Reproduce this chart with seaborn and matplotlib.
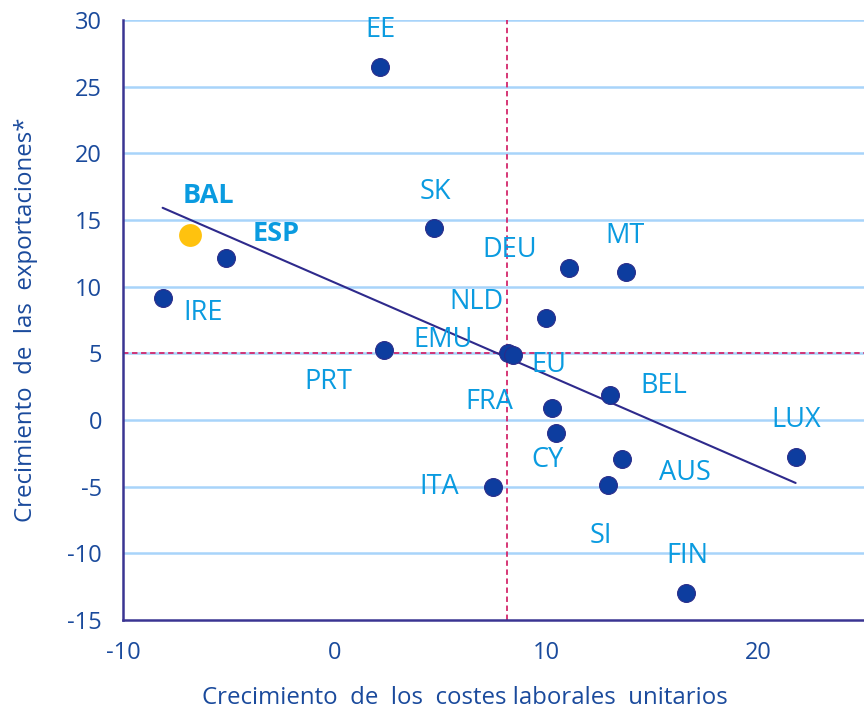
import matplotlib
matplotlib.use("Agg")
import matplotlib.pyplot as plt
import seaborn as sns
import pandas as pd
import numpy as np

# ---- data ----
countries = ["IRE", "BAL", "ESP", "EE", "PRT", "SK", "ITA", "EMU", "EU", "NLD",
             "FRA", "CY", "DEU", "SI", "BEL", "AUS", "MT", "FIN", "LUX"]
ulc_growth = [-8.13, -6.86, -5.12, 2.16, 2.35, 4.70, 7.48, 8.18, 8.40, 9.97,
              10.25, 10.44, 11.05, 12.93, 13.02, 13.59, 13.78, 16.60, 21.77]
export_growth = [9.15, 13.9, 12.15, 26.5, 5.25, 14.4, -5.0, 5.0, 4.9, 7.65,
                 0.9, -1.0, 11.4, -4.9, 1.9, -2.9, 11.1, -13.0, -2.8]
highlight = "BAL"
bold_labels = ["BAL", "ESP"]
ref_x = 8.15
ref_y = 5.0
x_ticks = [-10, 0, 10, 20]
y_ticks = [-15, -10, -5, 0, 5, 10, 15, 20, 25, 30]
x_label = "Crecimiento  de  los  costes laborales  unitarios"
y_label = "Crecimiento  de  las  exportaciones*"

# label offsets (pixels) relative to each point
label_offsets = {
    "IRE": (41, -15), "BAL": (19, 39), "ESP": (50, 24), "EE": (0, 37),
    "PRT": (-56, -32), "SK": (1, 36), "ITA": (-54, 0), "EMU": (-65, 13),
    "EU": (36, -10), "NLD": (-69, 16), "FRA": (-62, 6), "CY": (-8, -27),
    "DEU": (-59, 18), "SI": (-8, -51), "BEL": (53, 9), "AUS": (62, -14),
    "MT": (-1, 36), "FIN": (1, 37), "LUX": (1, 37),
}

df = pd.DataFrame({"country": countries, "x": ulc_growth, "y": export_growth})
base = df[df["country"] != highlight]
hl = df[df["country"] == highlight]

# ---- style ----
sns.set_theme(style="white")
plt.rcParams["font.family"] = ["Open Sans", "DejaVu Sans"]
plt.rcParams["axes.unicode_minus"] = False

axis_col = "#3A3592"
tick_col = "#1A4A9C"
label_col = "#0A9BE0"
dot_col = "#0D3D9F"
grid_col = "#A8D4FA"
ref_col = "#D3276B"

fig = plt.figure(figsize=(8.64, 7.11), dpi=100)
ax = fig.add_axes([0.1424, 0.128, 0.8576, 0.8439])

ax.set_xlim(-10, 25)
ax.set_ylim(-15, 30)

for yv in y_ticks:
    if yv > -15:
        ax.axhline(yv, color=grid_col, lw=1.8, zorder=0)

ax.axvline(ref_x, color=ref_col, lw=1.3, ls=(0, (3, 2)), zorder=1)
ax.axhline(ref_y, color=ref_col, lw=1.3, ls=(0, (3, 2)), zorder=1)

sns.regplot(data=df, x="x", y="y", scatter=False, ci=None, truncate=True,
            line_kws={"color": "#2E2A8C", "lw": 1.5, "zorder": 2}, ax=ax)

sns.scatterplot(data=base, x="x", y="y", color=dot_col, s=165,
                edgecolor="#2A2C8A", linewidth=0.8, legend=False, zorder=3, ax=ax)
sns.scatterplot(data=hl, x="x", y="y", color="#FFC20E", s=270,
                edgecolor="#FFC20E", linewidth=0, legend=False, zorder=4, ax=ax)

for c, xv, yv in zip(countries, ulc_growth, export_growth):
    dx, dy = label_offsets[c]
    ax.annotate(c, (xv, yv), xytext=(dx, dy), textcoords="offset pixels",
                ha="center", va="center", fontsize=19.5, color=label_col,
                fontweight="bold" if c in bold_labels else "normal", zorder=5)

ax.set_xticks(x_ticks)
ax.set_yticks(y_ticks)
ax.tick_params(axis="both", which="major", direction="out", length=7, width=1.5,
               color=axis_col, labelcolor=tick_col, labelsize=17, pad=8)
for s in ["top", "right"]:
    ax.spines[s].set_visible(False)
for s in ["left", "bottom"]:
    ax.spines[s].set_color(axis_col)
    ax.spines[s].set_linewidth(1.8)

ax.set_xlabel(x_label, fontsize=17.3, color=tick_col)
ax.set_ylabel(y_label, fontsize=17.3, color=tick_col)
ax.xaxis.set_label_coords(0.4615, -0.11)
ax.yaxis.set_label_coords(-0.115, 0.5)

fig.savefig("out.png", dpi=100)
